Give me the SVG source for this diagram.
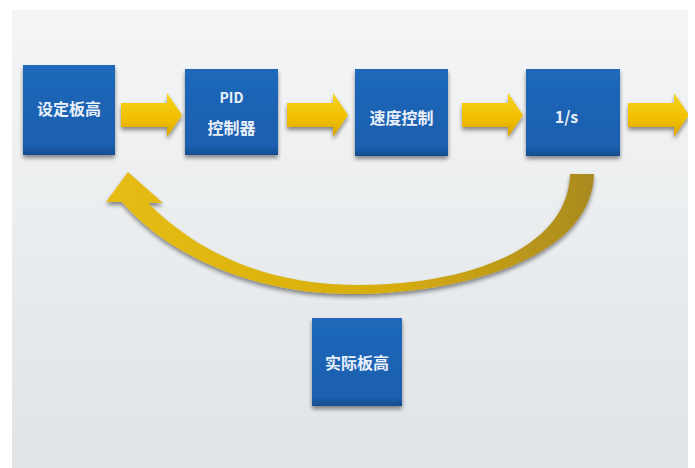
<svg xmlns="http://www.w3.org/2000/svg" width="695" height="468" viewBox="0 0 695 468">
<defs>
<linearGradient id="bg" x1="0" y1="0" x2="0" y2="1">
<stop offset="0" stop-color="#f4f5f6"/>
<stop offset="1" stop-color="#e0e4e7"/>
</linearGradient>
<linearGradient id="box" x1="0" y1="0" x2="0" y2="1">
<stop offset="0" stop-color="#2068ba"/>
<stop offset="0.9" stop-color="#1a5fae"/>
<stop offset="1" stop-color="#134c8f"/>
</linearGradient>
<linearGradient id="yel" x1="0" y1="0" x2="0" y2="1">
<stop offset="0" stop-color="#f7d21a"/>
<stop offset="0.6" stop-color="#f0bf00"/>
<stop offset="1" stop-color="#d8a200"/>
</linearGradient>
<linearGradient id="gold" x1="0" y1="0" x2="1" y2="0">
<stop offset="0" stop-color="#e6bd12"/>
<stop offset="0.6" stop-color="#d6ac10"/>
<stop offset="1" stop-color="#a98a20"/>
</linearGradient>
<filter id="sh" x="-20%" y="-20%" width="140%" height="150%">
<feGaussianBlur in="SourceAlpha" stdDeviation="2"/>
<feOffset dx="0" dy="3" result="b"/>
<feComponentTransfer><feFuncA type="linear" slope="0.45"/></feComponentTransfer>
<feMerge><feMergeNode/><feMergeNode in="SourceGraphic"/></feMerge>
</filter>
<path id="arr" d="M0 -12 L46 -12 L46 -22 L61 0 L46 22 L46 12 L0 12 Z"/>
</defs>
<style>
.b{fill:url(#box);filter:url(#sh)}
.t{fill:#e9f0fa;font-family:"Noto Sans CJK SC","Liberation Sans",sans-serif;font-weight:bold;font-size:16px;text-anchor:middle}
.a{fill:url(#yel);filter:url(#sh)}
</style>
<rect x="12" y="10" width="676" height="458" fill="url(#bg)"/>
<g id="connectors">
<use href="#arr" class="a" x="121" y="115"/>
<use href="#arr" class="a" x="287" y="115"/>
<use href="#arr" class="a" x="462" y="115"/>
<g><use href="#arr" class="a" x="628" y="115"/></g>
<path class="a" style="fill:url(#gold)" d="M594 174 C592 255 470 292 360 294 C260 296 170 258 122 202 L106 202 L128 172 L163 203 L148 203 C200 255 270 285 360 285 C460 285 568 252 570 174 Z"/>
</g>
<rect x="688" y="80" width="7" height="70" fill="#ffffff"/>
<g id="n1"><rect class="b" x="23" y="65" width="92" height="90"/><text class="t" x="69" y="115">设定板高</text></g>
<g id="n2"><rect class="b" x="185" y="69" width="93" height="86"/><text class="t" x="231.5" y="103" style="font-size:14px">PID</text><text class="t" x="231.5" y="134">控制器</text></g>
<g id="n3"><rect class="b" x="355" y="69" width="93" height="87"/><text class="t" x="401.5" y="124">速度控制</text></g>
<g id="n4"><rect class="b" x="526" y="69" width="94" height="87"/><text class="t" x="566.5" y="123">1/s</text></g>
<g id="n5"><rect class="b" x="312" y="318" width="90" height="88"/><text class="t" x="357" y="369">实际板高</text></g>
</svg>
